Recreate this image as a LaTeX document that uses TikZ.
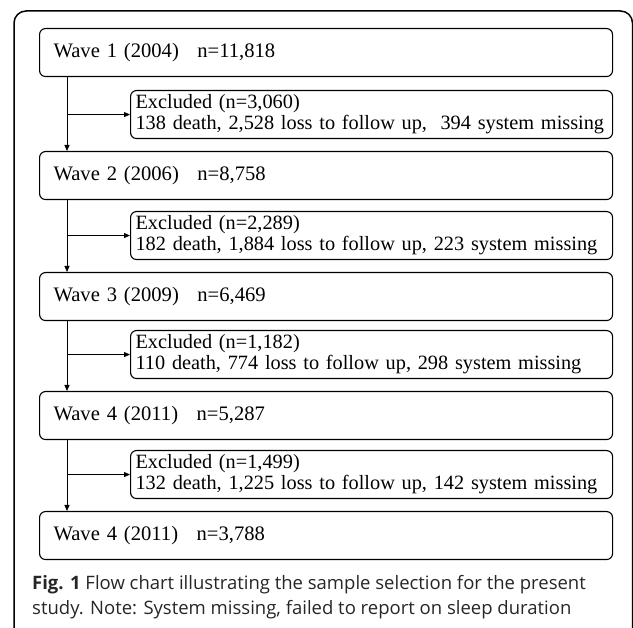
\documentclass[tikz,border=0pt]{standalone}
\usepackage{fontspec}
\setmainfont{Liberation Serif}
\newfontfamily\capfont{Open Sans}
\usetikzlibrary{arrows.meta}
\begin{document}
\begin{tikzpicture}[x=1pt,y=-1pt,
  wavebox/.style={draw, line width=1.1pt, rounded corners=6pt, anchor=north west,
    minimum width=573pt, minimum height=48pt, inner xsep=14pt, inner ysep=0pt,
    text width=545pt, align=left, font=\fontsize{20.6}{20}\selectfont},
  exclbox/.style={draw, line width=1.1pt, rounded corners=6pt, anchor=north west,
    minimum width=482pt, minimum height=48pt, inner xsep=5pt, inner ysep=0pt,
    text width=472pt, align=left, font=\fontsize{20.3}{21}\selectfont},
  conn/.style={draw, line width=0.8pt, -{Triangle[length=6pt,width=5pt]}},
  captext/.style={anchor=base west, inner sep=0pt, text=black!85, font=\capfont\fontsize{18.5}{25}\selectfont},
  frame/.style={draw, line width=1.5pt, rounded corners=12pt}]
\useasboundingbox (0,0) rectangle (633,628);
\draw[frame] (14,11) rectangle (632.5,640);
\node[wavebox] (w1) at (39,28) {Wave 1 (2004)\hspace{0.9em}n=11,818};
\node[exclbox] (e1) at (130,90) {\mbox{Excluded (n=3,060)}\\\mbox{138 death, 2,528 loss to follow up,\ \ 394 system missing}};
\node[wavebox] (w2) at (39,151) {Wave 2 (2006)\hspace{0.9em}n=8,758};
\node[exclbox] (e2) at (130,211) {\mbox{Excluded (n=2,289)}\\\mbox{182 death, 1,884 loss to follow up, 223 system missing}};
\node[wavebox] (w3) at (39,272) {Wave 3 (2009)\hspace{0.9em}n=6,469};
\node[exclbox] (e3) at (130,330) {\mbox{Excluded (n=1,182)}\\\mbox{110 death, 774 loss to follow up, 298 system missing}};
\node[wavebox] (w4) at (39,391) {Wave 4 (2011)\hspace{0.9em}n=5,287};
\node[exclbox] (e4) at (130,450) {\mbox{Excluded (n=1,499)}\\\mbox{132 death, 1,225 loss to follow up, 142 system missing}};
\node[wavebox] (w5) at (39,511) {Wave 4 (2011)\hspace{0.9em}n=3,788};
\foreach \a/\e/\b in {w1/e1/w2, w2/e2/w3, w3/e3/w4, w4/e4/w5} {
  \coordinate (\a t) at ([xshift=28pt]\a.south west);
  \draw[conn] (\a t) -- (\a t |- \b.north);
  \draw[conn] (\a t |- \e.west) -- (\e.west);
}
\node[captext] (cap1) at (32,590) {\textbf{Fig. 1} Flow chart illustrating the sample selection for the present};
\node[captext] (cap2) at (32,615) {study. Note: System missing, failed to report on sleep duration};
\end{tikzpicture}
\end{document}
